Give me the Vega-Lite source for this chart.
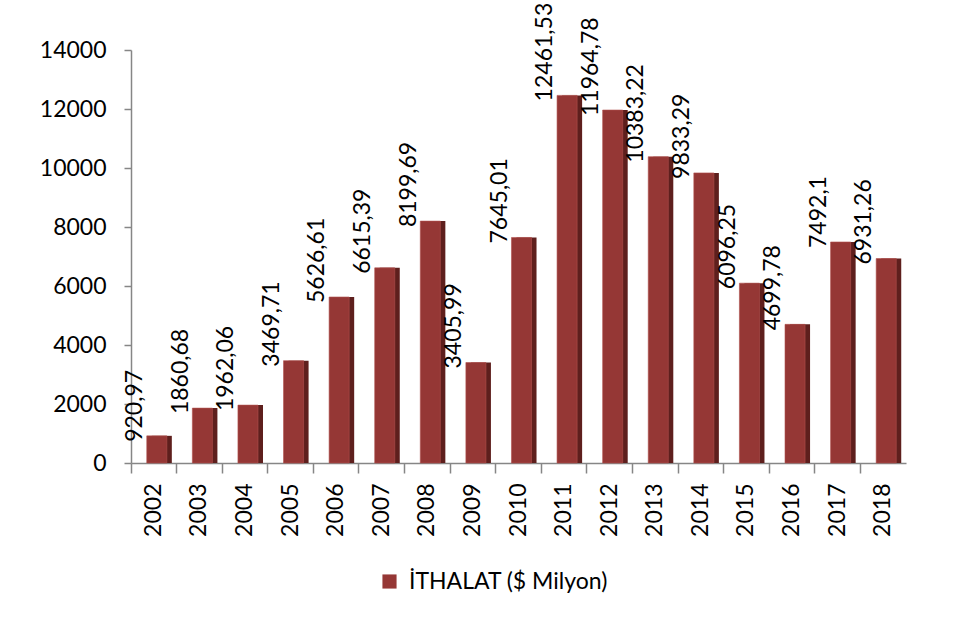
{
  "$schema": "https://vega.github.io/schema/vega-lite/v6.json",
  "width": 775,
  "height": 413,
  "autosize": {"type": "none"},
  "padding": {"left": 131, "top": 50, "right": 52, "bottom": 162},
  "background": "white",
  "config": {
    "view": {"stroke": null},
    "font": "Lato",
    "axis": {"labelFont": "Lato", "labelFontSize": 23, "labelColor": "black", "domainColor": "#868686", "tickColor": "#868686", "domainWidth": 1.5, "tickWidth": 1.5, "grid": false, "title": null}
  },
  "data": {
    "values": [
      {"year": "2002", "value": 920.97, "label": "920,97"},
      {"year": "2003", "value": 1860.68, "label": "1860,68"},
      {"year": "2004", "value": 1962.06, "label": "1962,06"},
      {"year": "2005", "value": 3469.71, "label": "3469,71"},
      {"year": "2006", "value": 5626.61, "label": "5626,61"},
      {"year": "2007", "value": 6615.39, "label": "6615,39"},
      {"year": "2008", "value": 8199.69, "label": "8199,69"},
      {"year": "2009", "value": 3405.99, "label": "3405,99"},
      {"year": "2010", "value": 7645.01, "label": "7645,01"},
      {"year": "2011", "value": 12461.53, "label": "12461,53"},
      {"year": "2012", "value": 11964.78, "label": "11964,78"},
      {"year": "2013", "value": 10383.22, "label": "10383,22"},
      {"year": "2014", "value": 9833.29, "label": "9833,29"},
      {"year": "2015", "value": 6096.25, "label": "6096,25"},
      {"year": "2016", "value": 4699.78, "label": "4699,78"},
      {"year": "2017", "value": 7492.1, "label": "7492,1"},
      {"year": "2018", "value": 6931.26, "label": "6931,26"}
    ]
  },
  "encoding": {
    "x": {
      "field": "year", "type": "nominal", "sort": null,
      "scale": {"paddingInner": 0, "paddingOuter": 0},
      "axis": {"labelAngle": -90, "labelAlign": "right", "labelBaseline": "middle", "tickSize": 10, "labelPadding": 10, "bandPosition": 0, "ticks": true}
    },
    "y": {
      "field": "value", "type": "quantitative",
      "scale": {"domain": [0, 14000], "nice": false},
      "axis": {"values": [0, 2000, 4000, 6000, 8000, 10000, 12000, 14000], "tickSize": 7, "labelPadding": 18, "format": "d"}
    }
  },
  "layer": [
    {
      "mark": {"type": "bar", "width": {"band": 0.44}, "color": "#5e1f1d"},
      "encoding": {"xOffset": {"value": 8}}
    },
    {
      "mark": {"type": "bar", "width": {"band": 0.44}, "stroke": "#b0504d", "strokeWidth": 0.6},
      "encoding": {
        "xOffset": {"value": 3},
        "color": {
          "datum": "İTHALAT ($ Milyon)",
          "type": "nominal",
          "scale": {"range": ["#953735"]},
          "legend": {
            "title": null, "orient": "none", "legendX": 247, "legendY": 520,
            "symbolType": "square", "symbolSize": 200, "symbolStrokeWidth": 0,
            "labelFont": "Lato", "labelFontSize": 23, "labelColor": "black", "labelOffset": 8, "labelLimit": 400
          }
        }
      }
    },
    {
      "mark": {"type": "text", "angle": 270, "align": "left", "baseline": "middle", "dx": -6, "fontSize": 23, "font": "Lato", "color": "black"},
      "encoding": {"text": {"field": "label"}, "xOffset": {"value": 4}}
    }
  ]
}
